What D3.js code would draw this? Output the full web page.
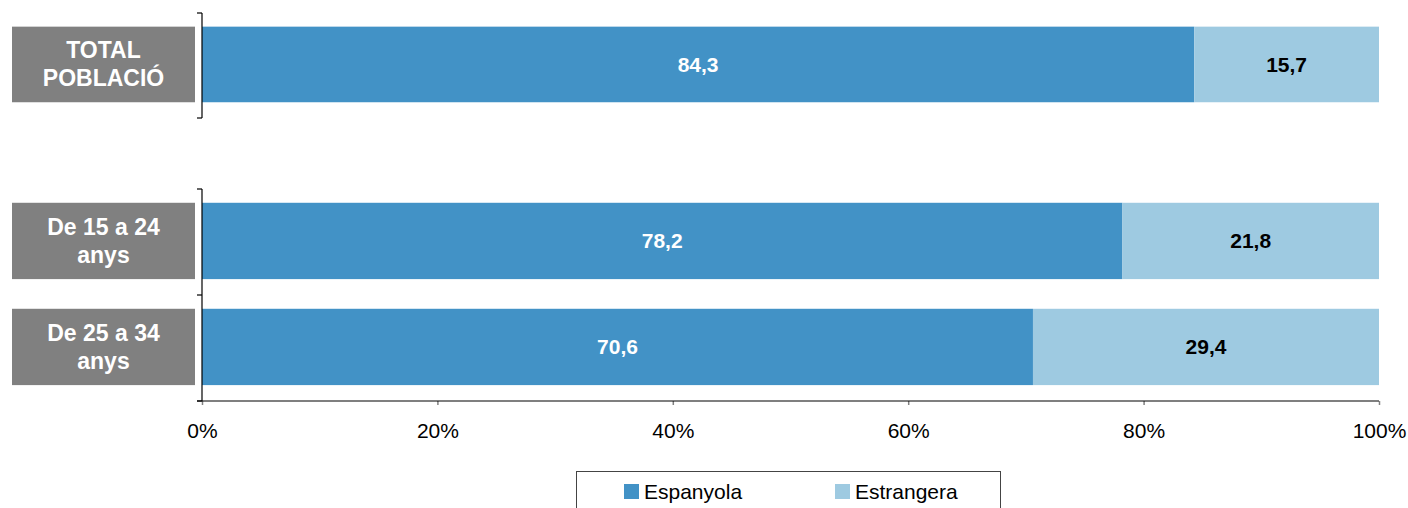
<!DOCTYPE html>
<html>
<head>
<meta charset="utf-8">
<script src="https://cdn.jsdelivr.net/npm/d3@7/dist/d3.min.js"></script>
<style>
  body { margin: 0; background: #fff; }
  svg { display: block; font-family: Arial, "Liberation Sans", sans-serif; }
</style>
</head>
<body>
<svg></svg>
<script>
// data
var topCategories = ['TOTAL POBLACIÓ'];
var ageCategories = ['De 15 a 24 anys', 'De 25 a 34 anys'];
var categoryLines = {
    'TOTAL POBLACIÓ': ['TOTAL', 'POBLACIÓ'],
    'De 15 a 24 anys': ['De 15 a 24', 'anys'],
    'De 25 a 34 anys': ['De 25 a 34', 'anys']
};
var espanyola = [84.3, 78.2, 70.6];
var estrangera = [15.7, 21.8, 29.4];
var seriesNames = ['Espanyola', 'Estrangera'];
var tickValues = [0, 20, 40, 60, 80, 100];

var colors = ['#4292c6', '#9ecae1'];
var labelColors = ['#fff', '#000'];

var svg = d3.select('svg')
    .attr('width', 1408)
    .attr('height', 508);

var x = d3.scaleLinear().domain([0, 100]).range([202, 1379]);

// two groups of bands, Excel-style gap between them
var yTop = d3.scaleBand().domain(topCategories).range([13, 118]);
var yAge = d3.scaleBand().domain(ageCategories).range([189, 401]);

var rows = topCategories.concat(ageCategories).map((c, i) => {
    var scale = i < topCategories.length ? yTop : yAge;
    var bw = scale.bandwidth();
    return {
        cat: c,
        y: scale(c) + bw * 0.13,
        h: bw * 0.72,
        values: [espanyola[i], estrangera[i]]
    };
});

// bars
var barG = svg.append('g');
rows.forEach((r) => {
    var x0 = 0;
    r.values.forEach((v, k) => {
        barG.append('rect')
            .attr('x', x(x0))
            .attr('y', r.y)
            .attr('width', x(x0 + v) - x(x0))
            .attr('height', r.h)
            .attr('fill', colors[k]);
        barG.append('text')
            .attr('x', (x(x0) + x(x0 + v)) / 2)
            .attr('y', r.y + r.h / 2)
            .attr('dy', '0.35em')
            .attr('text-anchor', 'middle')
            .attr('font-size', 21)
            .attr('font-weight', 'bold')
            .attr('fill', labelColors[k])
            .text(d3.format('.1f')(v).replace('.', ','));
        x0 += v;
    });
});

// category label boxes
rows.forEach((r) => {
    svg.append('rect')
        .attr('x', 12)
        .attr('y', r.y)
        .attr('width', 183)
        .attr('height', r.h)
        .attr('fill', '#808080');
    var lines = categoryLines[r.cat];
    svg.append('text')
        .attr('x', 103.5)
        .attr('y', r.y + r.h / 2)
        .attr('text-anchor', 'middle')
        .attr('font-size', 23)
        .attr('font-weight', 'bold')
        .attr('fill', '#fff')
        .selectAll('tspan')
        .data(lines)
        .enter()
        .append('tspan')
            .attr('x', 103.5)
            .attr('dy', (d, i) => i === 0 ? '-0.26em' : '1.2em')
            .text((d) => d);
});

// left axis segments with ticks at band edges
function leftAxis(scale) {
    var r = scale.range();
    var edges = scale.domain().map((d) => scale(d)).concat([r[1]]);
    var g = svg.append('g').attr('stroke', '#000').attr('stroke-width', 1.2);
    g.append('line')
        .attr('x1', x(0)).attr('x2', x(0))
        .attr('y1', r[0]).attr('y2', r[1]);
    g.selectAll('.tk')
        .data(edges)
        .enter()
        .append('line')
            .attr('x1', x(0) - 5).attr('x2', x(0))
            .attr('y1', (d) => d).attr('y2', (d) => d);
}
leftAxis(yTop);
leftAxis(yAge);

// bottom axis
var xAxis = svg.append('g')
    .attr('transform', 'translate(0,401)')
    .call(d3.axisBottom(x)
        .tickValues(tickValues)
        .tickFormat((d) => d + '%')
        .tickSizeInner(4)
        .tickSizeOuter(0)
        .tickPadding(18));
xAxis.select('.domain').remove();
xAxis.append('line')
    .attr('x1', x(0) - 5).attr('x2', x(100))
    .attr('stroke', '#000').attr('stroke-width', 1.2);
xAxis.selectAll('.tick line').attr('stroke', '#808080').attr('stroke-width', 1.5);
xAxis.selectAll('.tick text')
    .attr('font-size', 21)
    .attr('font-family', 'Arial, "Liberation Sans", sans-serif')
    .attr('fill', '#000');

// legend
var legend = svg.append('g');
legend.append('rect')
    .attr('x', 576.5).attr('y', 471.5)
    .attr('width', 424).attr('height', 60)
    .attr('fill', '#fff')
    .attr('stroke', '#444');
var legendX = [624, 835];
seriesNames.forEach((s, i) => {
    legend.append('rect')
        .attr('x', legendX[i]).attr('y', 484)
        .attr('width', 15).attr('height', 15)
        .attr('fill', colors[i]);
    legend.append('text')
        .attr('x', legendX[i] + 20)
        .attr('y', 491.5)
        .attr('dy', '0.35em')
        .attr('font-size', 21)
        .attr('fill', '#000')
        .text(s);
});
</script>
</body>
</html>
